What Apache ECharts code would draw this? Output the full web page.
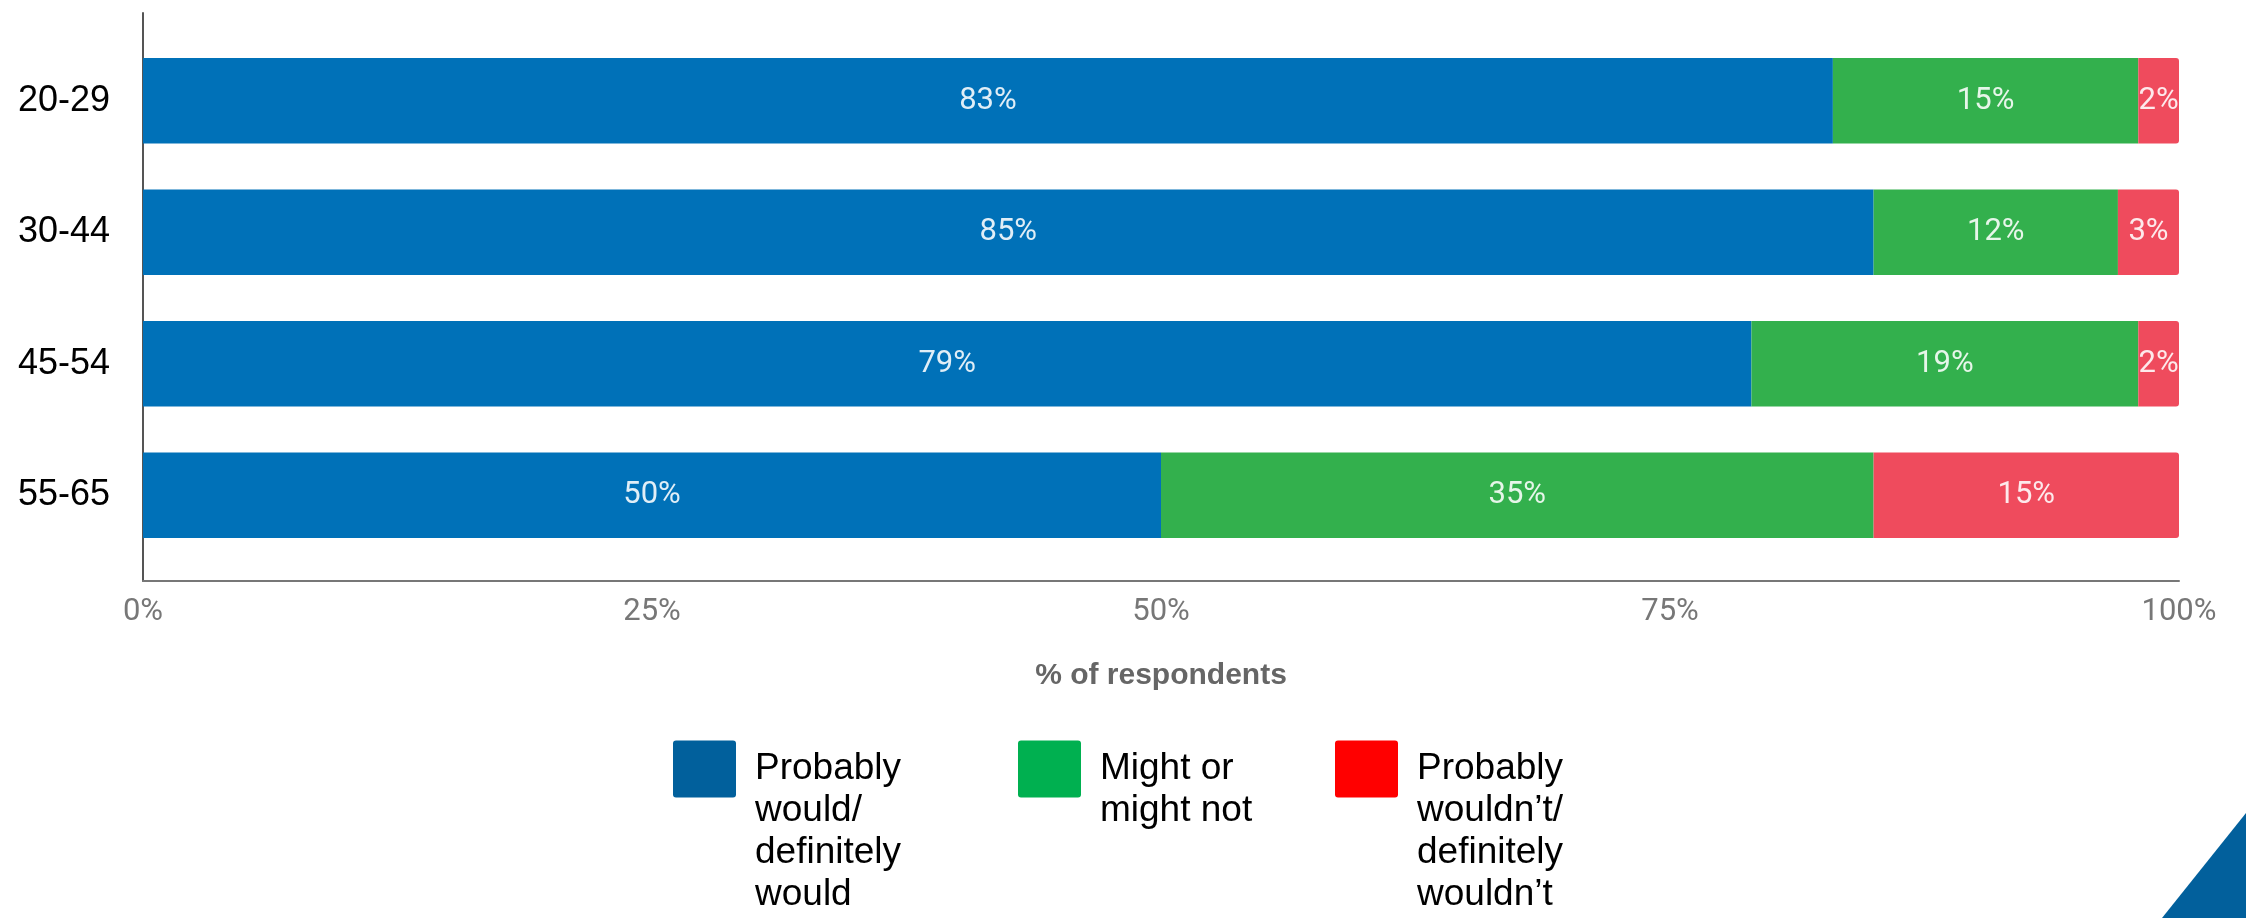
<!DOCTYPE html>
<html>
<head>
<meta charset="utf-8">
<script src="https://cdn.jsdelivr.net/npm/echarts@6/dist/echarts.min.js"></script>
<style>
html,body{margin:0;padding:0;background:#fff;}
#chart{width:2246px;height:918px;}
</style>
</head>
<body>
<div id="chart"></div>
<script>
const categories = ['20-29', '30-44', '45-54', '55-65'];
const wouldValues = [83, 85, 79, 50];
const mightValues = [15, 12, 19, 35];
const wouldntValues = [2, 3, 2, 15];
const seriesNames = ['Probably\nwould/\ndefinitely\nwould', 'Might or\nmight not', 'Probably\nwouldn\u2019t/\ndefinitely\nwouldn\u2019t'];
const xTickValues = [0, 25, 50, 75, 100];
const xAxisTitle = '% of respondents';

const barColors = ['#0071b8', '#33b04d', '#ef4b5d'];
const legendColors = ['#01609c', '#00b050', '#ff0000'];

const chart = echarts.init(document.getElementById('chart'));

const labelCfg = {
  show: true,
  position: 'inside',
  formatter: '{c}%',
  color: 'rgba(255,255,255,0.88)',
  fontFamily: 'Roboto',
  fontSize: 31
};

const legendIcon = 'path://M3,0 H60 Q63,0 63,3 V54 Q63,57 60,57 H3 Q0,57 0,54 V3 Q0,0 3,0 Z';

// Legend text: first line aligned with the centre of the colour box
function legendFor(i, left, top) {
  return {
    left: left,
    top: top,
    padding: 0,
    orient: 'horizontal',
    itemWidth: 63,
    itemHeight: 57,
    icon: legendIcon,
    selectedMode: false,
    data: [{ name: seriesNames[i], itemStyle: { color: legendColors[i] } }],
    formatter: function (name) {
      const n = name.split('\n').length;
      return '\n'.repeat(n - 1) + name;
    },
    textStyle: {
      fontFamily: 'Liberation Sans, Arial',
      fontSize: 37,
      lineHeight: 42,
      color: '#000',
      padding: [0, 0, 0, 14]
    }
  };
}

const option = {
  backgroundColor: '#fff',
  animation: false,
  grid: [
    { left: 143, right: 67, top: 35, bottom: 357, containLabel: false },
    { left: 143, right: 67, top: 13, bottom: 337, containLabel: false }
  ],
  xAxis: [
    { gridIndex: 0, type: 'value', min: 0, max: 100, show: false },
    {
      gridIndex: 1, type: 'value', min: 0, max: 100, interval: 25,
      axisLine: { show: true, lineStyle: { color: '#777', width: 2 } },
      axisTick: { show: false },
      splitLine: { show: false },
      axisLabel: {
        margin: 16,
        color: '#777',
        fontFamily: 'Roboto',
        fontSize: 31,
        formatter: function (v) { return xTickValues.indexOf(v) >= 0 ? v + '%' : ''; }
      },
      name: xAxisTitle,
      nameLocation: 'middle',
      nameGap: 80,
      nameTextStyle: {
        fontFamily: 'Liberation Sans, Arial',
        fontWeight: 'bold',
        fontSize: 30,
        color: '#666'
      }
    }
  ],
  yAxis: [
    {
      gridIndex: 0, type: 'category', data: categories, inverse: true,
      axisLine: { show: false },
      axisTick: { show: false },
      axisLabel: {
        margin: 33,
        color: '#000',
        fontFamily: 'Liberation Sans, Arial',
        fontSize: 36
      }
    },
    {
      gridIndex: 1, type: 'value', min: 0, max: 1,
      axisLine: { show: true, lineStyle: { color: '#555', width: 2 } },
      axisTick: { show: false },
      axisLabel: { show: false },
      splitLine: { show: false }
    }
  ],
  legend: [
    legendFor(0, 673, 622),
    legendFor(1, 1018, 706),
    legendFor(2, 1335, 622)
  ],
  series: [
    {
      name: seriesNames[0], type: 'bar', stack: 'total',
      xAxisIndex: 0, yAxisIndex: 0,
      barCategoryGap: '35%',
      itemStyle: { color: barColors[0] },
      label: labelCfg,
      data: wouldValues
    },
    {
      name: seriesNames[1], type: 'bar', stack: 'total',
      xAxisIndex: 0, yAxisIndex: 0,
      barCategoryGap: '35%',
      itemStyle: { color: barColors[1] },
      label: labelCfg,
      data: mightValues
    },
    {
      name: seriesNames[2], type: 'bar', stack: 'total',
      xAxisIndex: 0, yAxisIndex: 0,
      barCategoryGap: '35%',
      itemStyle: { color: barColors[2], borderRadius: [0, 3, 3, 0] },
      label: labelCfg,
      data: wouldntValues
    }
  ],
  graphic: [
    {
      type: 'polygon',
      silent: true,
      shape: { points: [[2246, 813], [2246, 918], [2162, 918]] },
      style: { fill: '#02609c' }
    }
  ]
};

chart.setOption(option);
</script>
</body>
</html>
